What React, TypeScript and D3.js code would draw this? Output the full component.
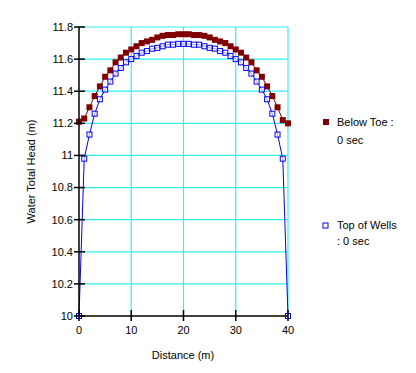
import React from "react";
import * as d3 from "d3";

const distance = d3.range(0, 41);

// Below Toe : 0 sec
const belowToe = [
  11.21, 11.23, 11.3, 11.37, 11.43, 11.49, 11.53, 11.58, 11.61, 11.64, 11.66,
  11.68, 11.7, 11.71, 11.72, 11.735, 11.745, 11.75, 11.75, 11.755, 11.755,
  11.755, 11.75, 11.75, 11.745, 11.735, 11.72, 11.71, 11.7, 11.68, 11.66,
  11.64, 11.61, 11.58, 11.53, 11.49, 11.43, 11.37, 11.3, 11.22, 11.2,
];

// Top of Wells : 0 sec
const topOfWells = [
  10.0, 10.98, 11.13, 11.26, 11.35, 11.41, 11.46, 11.51, 11.545, 11.58, 11.6,
  11.62, 11.64, 11.65, 11.665, 11.67, 11.68, 11.69, 11.69, 11.695, 11.695,
  11.695, 11.69, 11.69, 11.68, 11.67, 11.665, 11.65, 11.64, 11.62, 11.6,
  11.58, 11.545, 11.51, 11.46, 11.41, 11.35, 11.26, 11.13, 10.98, 10.0,
];

const xTicks = [0, 10, 20, 30, 40];
const yTicks = [10, 10.2, 10.4, 10.6, 10.8, 11, 11.2, 11.4, 11.6, 11.8];

const W = 416;
const H = 373;
const font = "Liberation Sans, Arial, sans-serif";

export default function App() {
  const x = d3.scaleLinear().domain([0, 40]).range([79, 288]);
  const y = d3.scaleLinear().domain([10, 11.8]).range([316, 27]);

  const line = d3
    .line<number>()
    .x((d, i) => x(distance[i]))
    .y((d) => y(d));

  const grid = "#33eef2";

  return (
    <svg
      width={W}
      height={H}
      style={{ position: "absolute", left: 0, top: 0, background: "#fff" }}
      fontFamily={font}
    >
      {/* grid */}
      {xTicks.slice(1).map((t) => (
        <line key={"gx" + t} x1={x(t)} x2={x(t)} y1={y(11.8)} y2={y(10)} stroke={grid} strokeWidth={1.2} />
      ))}
      {yTicks.slice(1).map((t) => (
        <line key={"gy" + t} x1={x(0)} x2={x(40)} y1={y(t)} y2={y(t)} stroke={grid} strokeWidth={1.2} />
      ))}

      {/* series */}
      <path d={line(belowToe) || ""} fill="none" stroke="#800000" strokeWidth={1} />
      {belowToe.map((v, i) => (
        <rect
          key={"bt" + i}
          x={x(distance[i]) - 3}
          y={y(v) - 3}
          width={6}
          height={6}
          fill="#800000"
        />
      ))}
      <path d={line(topOfWells) || ""} fill="none" stroke="#0000ff" strokeWidth={1} />
      {topOfWells.map((v, i) => (
        <rect
          key={"tw" + i}
          x={x(distance[i]) - 2.5}
          y={y(v) - 2.5}
          width={5}
          height={5}
          fill="#fff"
          fillOpacity={0.6}
          stroke="#0000ff"
          strokeWidth={1}
        />
      ))}

      {/* axes */}
      <line x1={x(0)} x2={x(0)} y1={y(11.8)} y2={y(10)} stroke="#000" strokeWidth={1.5} />
      <line x1={x(0)} x2={x(40)} y1={y(10)} y2={y(10)} stroke="#000" strokeWidth={1.5} />
      {yTicks.map((t) => (
        <g key={"yt" + t}>
          <line x1={x(0) - 5} x2={x(0) + 6} y1={y(t)} y2={y(t)} stroke="#000" strokeWidth={1.5} />
          <text x={x(0) - 6} y={y(t)} dy="0.35em" textAnchor="end" fontSize={11} fill="#000">
            {d3.format("~g")(t)}
          </text>
        </g>
      ))}
      {xTicks.map((t) => (
        <g key={"xt" + t}>
          <line x1={x(t)} x2={x(t)} y1={y(10) - 6} y2={y(10) + 5} stroke="#000" strokeWidth={1.5} />
          <text x={x(t)} y={y(10) + 18} textAnchor="middle" fontSize={11} fill="#000">
            {t}
          </text>
        </g>
      ))}

      <text x={183} y={359} textAnchor="middle" fontSize={11} fill="#000">
        Distance (m)
      </text>
      <text
        transform={`translate(35,${y(10.9)}) rotate(-90)`}
        textAnchor="middle"
        fontSize={11}
        fill="#000"
      >
        Water Total Head (m)
      </text>

      {/* legend */}
      <rect x={323} y={119} width={6} height={6} fill="#800000" />
      <text x={337} y={126} fontSize={11} fill="#000">Below Toe :</text>
      <text x={337} y={144} fontSize={11} fill="#000">0 sec</text>
      <rect x={323} y={223} width={5} height={5} fill="#fff" stroke="#0000ff" />
      <text x={337} y={229} fontSize={11} fill="#000">Top of Wells</text>
      <text x={337} y={245} fontSize={11} fill="#000">: 0 sec</text>
    </svg>
  );
}
